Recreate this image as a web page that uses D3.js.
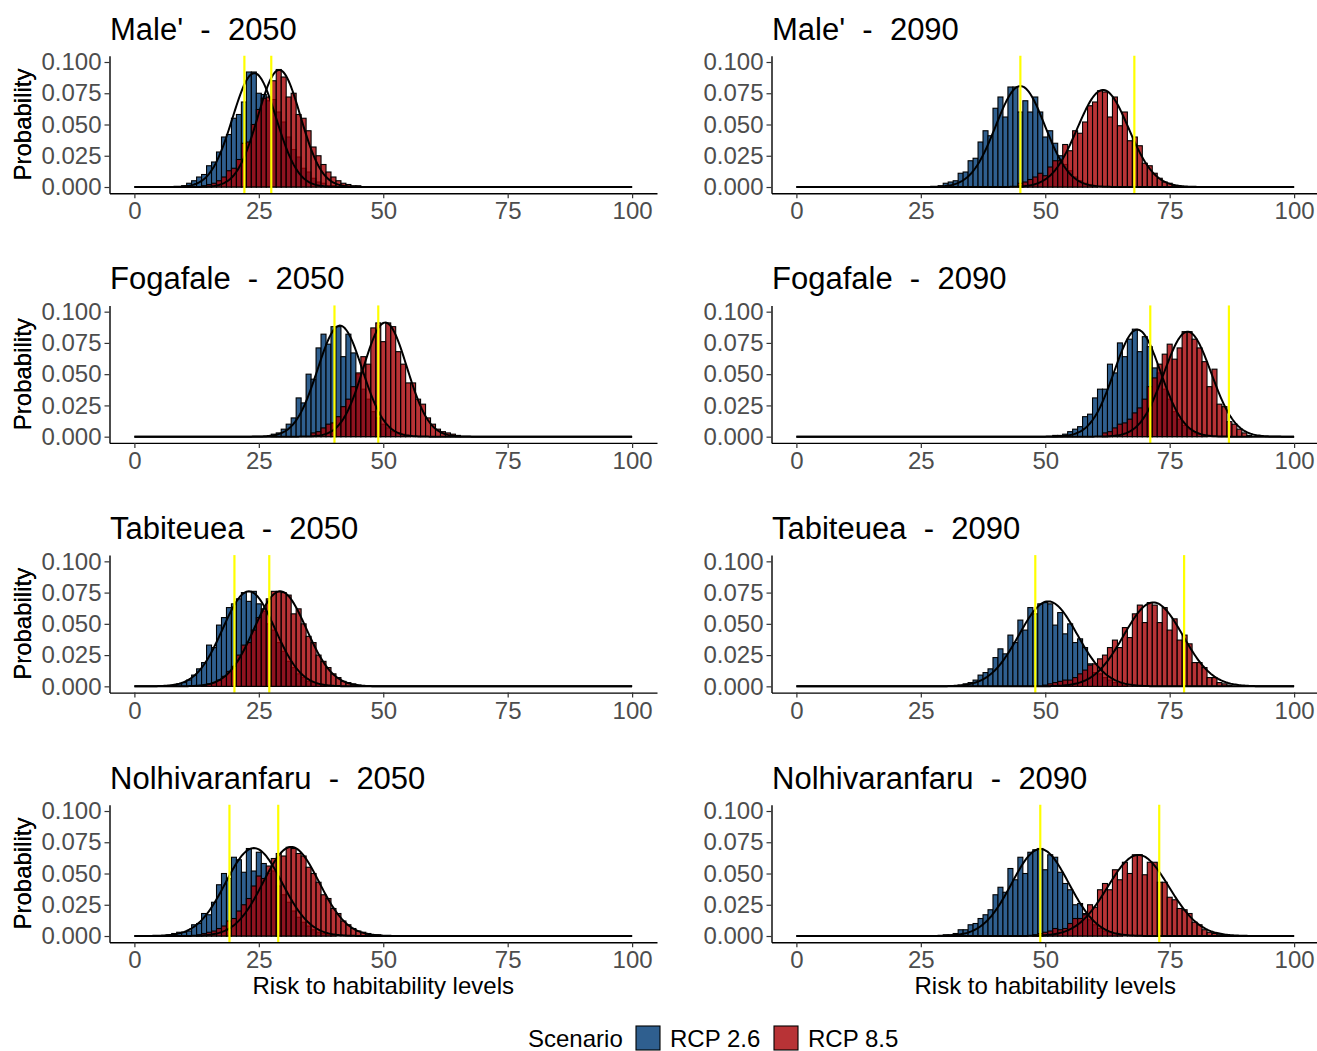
<!DOCTYPE html>
<html>
<head>
<meta charset="utf-8">
<script src="https://cdn.jsdelivr.net/npm/d3@7"></script>
<style>
  body { margin: 0; background: #fff; }
  text { font-family: "Liberation Sans", Arial, sans-serif; }
</style>
</head>
<body>
<div id="my_dataviz"></div>
<script>
// panel labels
var sites = ["Male'", "Fogafale", "Tabiteuea", "Nolhivaranfaru"];
var years = ["2050", "2090"];
var xTicks = [0, 25, 50, 75, 100];
var yTicks = [0, 0.025, 0.05, 0.075, 0.1];
var scenarios = ["RCP 2.6", "RCP 8.5"];

// histogram densities, 1-unit bins, first bin centre in *Start arrays
// panel order: Male' 2050, Male' 2090, Fogafale 2050, Fogafale 2090, Tabiteuea 2050, ...
var rcp26Start = [10, 29, 28, 52, 8, 33, 7, 30];
var rcp85Start = [14, 45, 36, 62, 14, 50, 13, 48];

var male2050Rcp26 = [.001,.003,.005,.008,.010,.017,.020,.028,.040,.042,.055,.058,.068,.092,.092,.075,.074,.069,.070,.060,.052,.040,.030,.024,.015,.012,.007,.004,.003,.001,.001];
var male2050Rcp85 = [.001,.002,.003,.005,.008,.013,.015,.022,.035,.036,.050,.062,.071,.072,.085,.094,.088,.072,.075,.058,.055,.045,.032,.025,.018,.012,.008,.005,.003,.002,.001,.001];
var male2090Rcp26 = [.001,.003,.004,.005,.011,.012,.021,.023,.036,.045,.041,.063,.072,.056,.080,.080,.060,.069,.060,.072,.060,.040,.045,.035,.025,.018,.013,.008,.005,.003,.002,.001];
var male2090Rcp85 = [.003,.004,.006,.008,.011,.009,.016,.021,.021,.034,.029,.045,.043,.052,.065,.068,.077,.076,.056,.072,.049,.060,.037,.040,.033,.019,.017,.011,.007,.004,.003,.001];
var foga2050Rcp26 = [.002,.003,.006,.010,.015,.031,.027,.050,.046,.071,.082,.074,.088,.088,.064,.082,.067,.050,.038,.030,.020,.015,.010,.007,.004,.003,.002,.001];
var foga2050Rcp85 = [.003,.004,.007,.010,.011,.016,.024,.030,.040,.051,.064,.058,.087,.091,.076,.091,.088,.068,.058,.043,.043,.030,.026,.015,.010,.006,.004,.003,.002,.001];
var foga2090Rcp26 = [.001,.001,.002,.004,.006,.008,.016,.018,.031,.038,.038,.058,.051,.075,.064,.078,.086,.068,.080,.072,.055,.051,.038,.030,.020,.014,.009,.006,.003,.002,.001];
var foga2090Rcp85 = [.003,.004,.007,.010,.011,.014,.019,.023,.030,.040,.047,.058,.066,.074,.062,.071,.084,.084,.078,.071,.060,.040,.054,.026,.024,.012,.010,.006,.003,.001];
var tabi2050Rcp26 = [.001,.002,.003,.005,.009,.014,.019,.033,.031,.049,.055,.063,.066,.070,.075,.068,.076,.066,.060,.050,.045,.035,.028,.020,.015,.010,.007,.004,.003,.002,.001];
var tabi2050Rcp85 = [.001,.002,.003,.005,.008,.012,.016,.025,.033,.035,.045,.055,.062,.070,.076,.076,.075,.073,.058,.062,.050,.040,.035,.025,.020,.015,.010,.007,.004,.003,.002,.001];
var tabi2090Rcp26 = [.001,.002,.003,.005,.009,.011,.014,.023,.030,.026,.041,.035,.053,.045,.063,.058,.066,.067,.066,.049,.059,.042,.050,.035,.038,.031,.018,.011,.010,.007,.005,.003,.002,.001];
var tabi2090Rcp85 = [.001,.002,.003,.004,.005,.005,.007,.010,.013,.017,.018,.022,.025,.031,.037,.031,.047,.039,.058,.065,.051,.067,.065,.051,.063,.045,.054,.037,.041,.034,.019,.019,.015,.007,.007,.003,.002,.001];
var nolh2050Rcp26 = [.001,.002,.003,.003,.004,.009,.010,.018,.017,.027,.041,.050,.046,.063,.061,.051,.070,.052,.067,.058,.050,.052,.040,.033,.027,.020,.015,.011,.008,.005,.003,.002,.001,.001];
var nolh2050Rcp85 = [.001,.002,.003,.004,.006,.008,.012,.014,.020,.025,.030,.040,.048,.046,.056,.062,.066,.064,.071,.070,.066,.064,.055,.050,.043,.033,.030,.022,.018,.012,.009,.006,.004,.003,.002,.001,.001];
var nolh2090Rcp26 = [.001,.001,.002,.005,.005,.009,.010,.014,.017,.021,.033,.039,.035,.054,.045,.063,.050,.067,.069,.070,.053,.065,.063,.051,.042,.037,.025,.026,.018,.013,.009,.006,.004,.003,.002,.001];
var nolh2090Rcp85 = [.001,.002,.003,.004,.006,.005,.006,.010,.014,.014,.017,.025,.023,.037,.042,.037,.053,.045,.059,.050,.065,.065,.049,.059,.059,.043,.043,.031,.029,.022,.021,.018,.011,.009,.005,.003,.002,.001];

var rcp26Bars = [male2050Rcp26, male2090Rcp26, foga2050Rcp26, foga2090Rcp26, tabi2050Rcp26, tabi2090Rcp26, nolh2050Rcp26, nolh2090Rcp26];
var rcp85Bars = [male2050Rcp85, male2090Rcp85, foga2050Rcp85, foga2090Rcp85, tabi2050Rcp85, tabi2090Rcp85, nolh2050Rcp85, nolh2090Rcp85];

// fitted normal curves
var rcp26Mean = [24.1, 45.0, 41.3, 68.5, 23.0, 50.6, 24.0, 49.0];
var rcp26Sd   = [4.38, 4.94, 4.49, 4.66, 5.25, 5.87, 5.67, 5.73];
var rcp85Mean = [29.1, 61.6, 50.4, 78.6, 29.3, 71.7, 31.5, 68.7];
var rcp85Sd   = [4.26, 5.14, 4.37, 4.75, 5.25, 5.94, 5.60, 6.15];

// yellow reference lines
var markerA = [22.1, 45.0, 40.2, 71.1, 20.1, 48.0, 19.1, 49.0];
var markerB = [27.5, 67.9, 49.0, 86.9, 27.1, 77.9, 28.9, 72.9];

var colors = { "RCP 2.6": "#2f5f8f", "RCP 8.5": "#a60004" };
var opacity = { "RCP 2.6": 1, "RCP 8.5": 0.8 };

// layout
var W = 1317, H = 1051;
var colX = [109.5, 771.5], panelW = 547.5;
var rowTop = 55.75, rowStep = 249.67, panelH = 137.5;

var svg = d3.select("#my_dataviz")
    .append("svg")
    .attr("width", W)
    .attr("height", H);

function dnorm(x, m, s) {
    return Math.exp(-0.5 * Math.pow((x - m) / s, 2)) / (s * Math.sqrt(2 * Math.PI));
}

var curveX = d3.range(0, 100.001, 0.25);

d3.range(8).forEach(function (i) {
    var row = Math.floor(i / 2), col = i % 2;
    var top = rowTop + row * rowStep;

    var x = d3.scaleLinear().domain([-5, 105]).range([colX[col], colX[col] + panelW]);
    var y = d3.scaleLinear().domain([-0.005, 0.105]).range([top + panelH, top]);

    var g = svg.append("g");

    // title
    g.append("text")
        .attr("x", colX[col] + 0.5)
        .attr("y", top - 16)
        .style("font-size", "31px")
        .style("fill", "#000")
        .text(sites[row] + "\u00a0\u00a0-\u00a0\u00a0" + years[col]);

    // bars
    [[rcp26Bars[i], rcp26Start[i], "RCP 2.6"], [rcp85Bars[i], rcp85Start[i], "RCP 8.5"]].forEach(function (s) {
        g.append("g")
            .selectAll("rect")
            .data(s[0])
            .enter()
            .append("rect")
            .attr("x", function (d, j) { return x(s[1] + j - 0.5); })
            .attr("width", x(1) - x(0))
            .attr("y", function (d) { return y(d); })
            .attr("height", function (d) { return y(0) - y(d); })
            .style("fill", colors[s[2]])
            .style("fill-opacity", opacity[s[2]])
            .style("stroke", "#000")
            .style("stroke-width", 1.1);
    });

    // density curves
    var line = d3.line()
        .x(function (d) { return x(d[0]); })
        .y(function (d) { return y(d[1]); });
    [[rcp26Mean[i], rcp26Sd[i]], [rcp85Mean[i], rcp85Sd[i]]].forEach(function (p) {
        g.append("path")
            .datum(curveX.map(function (v) { return [v, dnorm(v, p[0], p[1])]; }))
            .attr("d", line)
            .style("fill", "none")
            .style("stroke", "#000")
            .style("stroke-width", 2);
    });

    // yellow lines
    g.selectAll("line.mark")
        .data([markerA[i], markerB[i]])
        .enter()
        .append("line")
        .attr("x1", function (d) { return x(d); })
        .attr("x2", function (d) { return x(d); })
        .attr("y1", top)
        .attr("y2", top + panelH)
        .style("stroke", "#ffff00")
        .style("stroke-width", 2.2);

    // axes
    var xAxis = g.append("g")
        .attr("transform", "translate(0," + (top + panelH) + ")")
        .call(d3.axisBottom(x).tickValues(xTicks).tickSize(5).tickPadding(4).tickSizeOuter(0));
    var yAxis = g.append("g")
        .attr("transform", "translate(" + colX[col] + ",0)")
        .call(d3.axisLeft(y).tickValues(yTicks).tickFormat(d3.format(".3f")).tickSize(5).tickPadding(3).tickSizeOuter(0));
    [xAxis, yAxis].forEach(function (a) {
        a.select(".domain").style("stroke", "#000").style("stroke-width", 1.4);
        a.selectAll(".tick line").style("stroke", "#333").style("stroke-width", 1.2);
        a.selectAll(".tick text")
            .style("font-size", "24px")
            .style("fill", "#4d4d4d")
            .style("font-family", "Liberation Sans, Arial, sans-serif");
    });

    // y title
    g.append("text")
        .attr("transform", "translate(31," + (top + panelH / 2) + ") rotate(-90)")
        .attr("text-anchor", "middle")
        .style("font-size", "24px")
        .text("Probability");

    // x title on bottom row
    if (row === 3) {
        g.append("text")
            .attr("x", x(50))
            .attr("y", top + panelH + 52)
            .attr("text-anchor", "middle")
            .style("font-size", "24px")
            .text("Risk to habitability levels");
    }
});

// legend
var legend = svg.append("g");
legend.append("text")
    .attr("x", 528)
    .attr("y", 1047)
    .style("font-size", "24px")
    .text("Scenario");
var keyX = [636, 774];
scenarios.forEach(function (s, k) {
    legend.append("rect")
        .attr("x", keyX[k])
        .attr("y", 1026)
        .attr("width", 24)
        .attr("height", 24)
        .style("fill", colors[s])
        .style("fill-opacity", opacity[s])
        .style("stroke", "#000")
        .style("stroke-width", 1.1);
    legend.append("text")
        .attr("x", keyX[k] + 34)
        .attr("y", 1047)
        .style("font-size", "24px")
        .text(s);
});
</script>
</body>
</html>
